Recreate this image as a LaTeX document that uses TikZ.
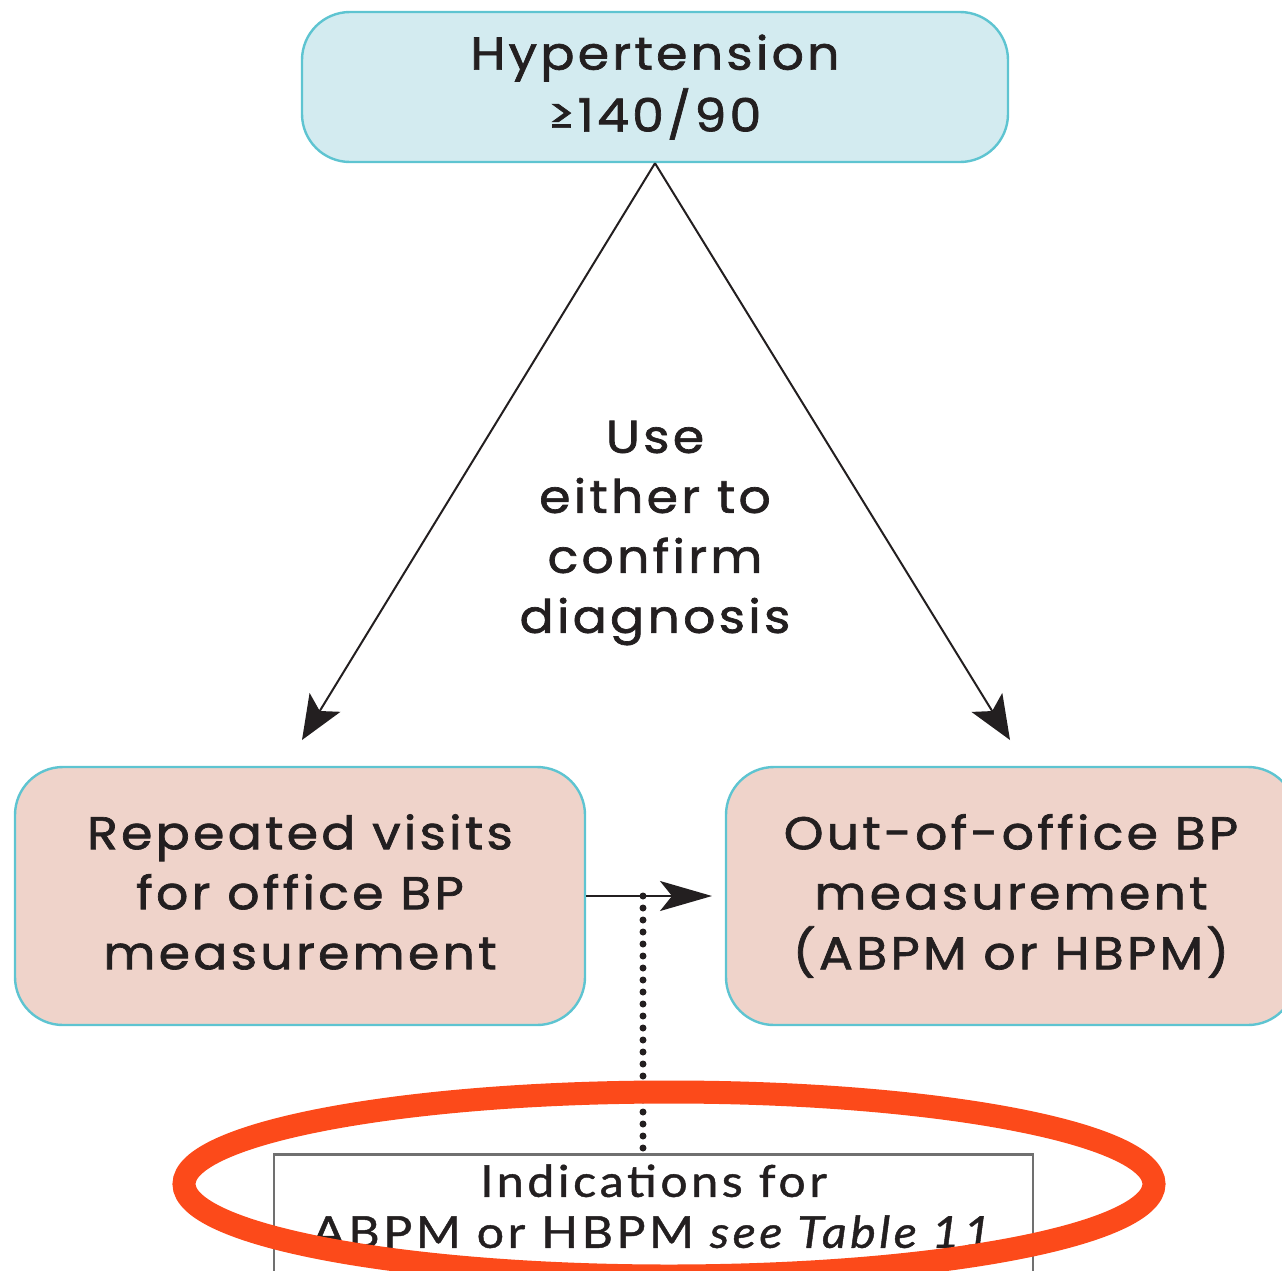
\documentclass[tikz,border=0pt]{standalone}
\usepackage{fontspec}
\setmainfont{Poppins}[FakeStretch=1.1,LetterSpace=7,FakeBold=1.5]
\newfontfamily\narrowfont{Lato}[FakeStretch=1.1,LetterSpace=8,FakeBold=1]
\usetikzlibrary{arrows.meta,shapes.geometric}
\definecolor{bluefill}{HTML}{D3EBF0}
\definecolor{blueedge}{HTML}{5EC4D1}
\definecolor{pinkfill}{HTML}{EFD3CA}
\definecolor{txt}{HTML}{231F20}
\definecolor{grayedge}{HTML}{707070}
\definecolor{redmark}{HTML}{FC4A1A}
\begin{document}
\begin{tikzpicture}[x=0.5pt,y=-0.5pt,
  box/.style={draw=blueedge,line width=1.2pt,rounded corners=24pt,inner sep=0pt,align=center,text=txt,font=\fontsize{23}{30}\selectfont},
  topbox/.style={box,fill=bluefill,minimum width=353pt,minimum height=75pt},
  sidebox/.style={box,fill=pinkfill,minimum width=285pt,minimum height=129pt},
  notebox/.style={draw=grayedge,line width=1.4pt,fill=white,inner xsep=0pt,inner ysep=5pt,align=center,text=txt,minimum width=379.5pt,font=\narrowfont\fontsize{22}{25.5}\selectfont},
  midtext/.style={align=center,text=txt,inner sep=0pt,font=\fontsize{23}{30}\selectfont},
  conn/.style={draw=txt,line width=1pt,-{Stealth[length=22pt,width=18pt,inset=5pt]}},
  hconn/.style={draw=txt,line width=1pt,-{Stealth[length=26pt,width=15pt,inset=6pt]}},
  dotline/.style={draw=txt,line width=3.5pt,line cap=round,dash pattern=on 0pt off 6pt},
  redring/.style={draw=redmark,line width=11.5pt}
]
\useasboundingbox (0,0) rectangle (1282,1271);
\node[topbox] (top) at (655,87) {\raisebox{-2pt}{Hypertension}\\\raisebox{-3pt}{≥140/90}};
\node[sidebox] (left) at (300,896) {Repeated visits\\for office BP\\measurement\vphantom{()}};
\node[sidebox] (right) at (1011,896) {Out-of-office BP\\measurement\\(ABPM or HBPM)};
\node[midtext] (mid) at (655,533) {Use\\either to\\confirm\\diagnosis};
\node[notebox,anchor=north,text depth=30pt] (note) at (653.5,1153) {Indications for\\ABPM or HBPM \textit{see Table 11}};
\coordinate (lend) at (302,740);
\coordinate (rend) at (1010,740);
\coordinate (hend) at (712,896);
\coordinate (branch) at (643,896);
\draw[conn] (top.south) -- (lend);
\draw[conn] (top.south) -- (rend);
\draw[hconn] (left.east |- branch) -- (hend);
\draw[dotline] (branch) -- (branch |- note.north);
\node[redring,ellipse,minimum width=485pt,minimum height=92pt,inner sep=0pt] (ring) at (669,1184) {};
\end{tikzpicture}
\end{document}
